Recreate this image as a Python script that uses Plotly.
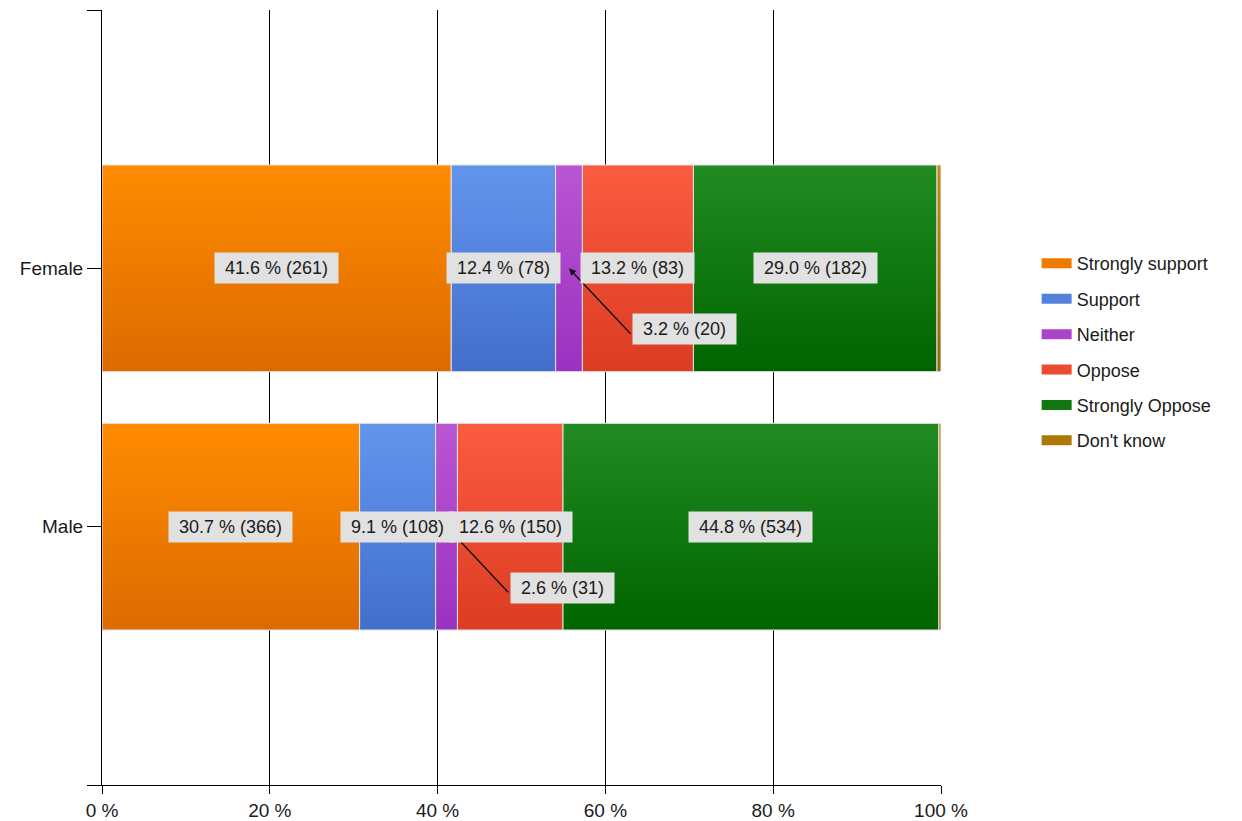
import plotly.graph_objects as go

# ---- data -------------------------------------------------------------
categories = ["Female", "Male"]
responses = ["Strongly support", "Support", "Neither", "Oppose",
             "Strongly Oppose", "Don't know"]
female_counts = [261, 78, 20, 83, 182, 3]
male_counts = [366, 108, 31, 150, 534, 3]
x_tick_values = [0, 20, 40, 60, 80, 100]
x_tick_labels = ["0 %", "20 %", "40 %", "60 %", "80 %", "100 %"]

# ---- styling ----------------------------------------------------------
# each segment is filled with a vertical gradient (light top -> dark bottom)
top_colors = ["#FF8C00", "#6495ED", "#BA55D3", "#FA5C40", "#228B22", "#C38D12"]
bottom_colors = ["#DC6A00", "#416FCB", "#9A32C0", "#DC3C22", "#006400", "#9A6400"]
swatch_colors = ["#EE7B00", "#5382DC", "#AA44CA", "#EB4C31", "#117711", "#AE7809"]
FONT = "Liberation Sans, Arial, sans-serif"
TEXT_COLOR = "#1a1a1a"
LABEL_BG = "#E1E1E1"
NBSP = "\u00a0"

counts_by_category = {"Female": female_counts, "Male": male_counts}
y_position = {"Female": 1, "Male": 0}
HALF_BAR = 0.4

fig = go.Figure()

segments = {}
for cat in categories:
    counts = counts_by_category[cat]
    total = sum(counts)
    pct = [c / total * 100 for c in counts]
    left = 0.0
    for resp, c, p in zip(responses, counts, pct):
        segments[(cat, resp)] = (left, left + p, p, c)
        left += p

for i, resp in enumerate(responses):
    for cat in categories:
        x0, x1, _, _ = segments[(cat, resp)]
        yc = y_position[cat]
        y0, y1 = yc - HALF_BAR, yc + HALF_BAR
        fig.add_trace(go.Scatter(
            x=[x0, x1, x1, x0, x0],
            y=[y0, y0, y1, y1, y0],
            mode="lines",
            fill="toself",
            fillgradient=dict(type="vertical",
                              colorscale=[[0, bottom_colors[i]], [1, top_colors[i]]],
                              start=y0, stop=y1),
            line=dict(color="#E4E4E4", width=1),
            name=resp,
            legendgroup=resp,
            showlegend=False,
            hoverinfo="skip",
        ))
    # legend key for this response (wide swatch)
    fig.add_trace(go.Scatter(
        x=[None], y=[None], mode="lines",
        line=dict(color=swatch_colors[i], width=14),
        name=resp, legendgroup=resp, showlegend=True, hoverinfo="skip",
    ))

# ---- value labels -----------------------------------------------------
label_font = dict(family=FONT, size=18, color=TEXT_COLOR)
callouts = []
inline = []
for cat in categories:
    yc = y_position[cat]
    for resp in responses:
        x0, x1, p, c = segments[(cat, resp)]
        if p < 1:
            continue
        text = f"{NBSP}{p:.1f} % ({c}){NBSP}"
        xc = (x0 + x1) / 2
        if p < 5:
            callouts.append((xc, yc, text))
        else:
            inline.append((xc, yc, text))

# leader arrows sit underneath the label boxes
for xc, yc, text in callouts:
    fig.add_annotation(x=xc, y=yc, text="", showarrow=True, ax=63, ay=67,
                       arrowhead=2, arrowsize=1, arrowwidth=1.4,
                       arrowcolor="#111111", standoff=0)
for xc, yc, text in inline:
    fig.add_annotation(x=xc, y=yc, text=text, showarrow=False,
                       bgcolor=LABEL_BG, borderpad=5, font=label_font)
for xc, yc, text in callouts:
    fig.add_annotation(x=xc, y=yc, text=text, showarrow=False,
                       xanchor="left", xshift=63, yshift=-61,
                       bgcolor=LABEL_BG, borderpad=5, font=label_font)

# ---- axes & layout ----------------------------------------------------
fig.update_xaxes(
    range=[0, 100], tickvals=x_tick_values, ticktext=x_tick_labels,
    showgrid=True, gridcolor="#000000", gridwidth=1,
    showline=True, linecolor="#000000", linewidth=1,
    ticks="outside", ticklen=8, tickcolor="#000000",
    zeroline=False, automargin=False,
    tickfont=dict(family=FONT, size=19, color=TEXT_COLOR),
)
fig.update_yaxes(
    range=[-1, 2], tickvals=[-1, 0, 1, 2], ticktext=["", "Male", "Female", ""],
    showgrid=False, showline=True, linecolor="#000000", linewidth=1,
    ticks="outside", ticklen=14, tickcolor="#000000",
    zeroline=False, automargin=False,
    tickfont=dict(family=FONT, size=19, color=TEXT_COLOR),
)
fig.update_layout(
    width=1242, height=821,
    margin=dict(l=102, r=301, t=10, b=36),
    paper_bgcolor="white", plot_bgcolor="white",
    showlegend=True,
    legend=dict(x=1.114, xanchor="left", y=0.5585, yanchor="middle",
                font=dict(family=FONT, size=18, color=TEXT_COLOR),
                tracegroupgap=9, bgcolor="rgba(0,0,0,0)"),
)

fig.write_html("out.html")
